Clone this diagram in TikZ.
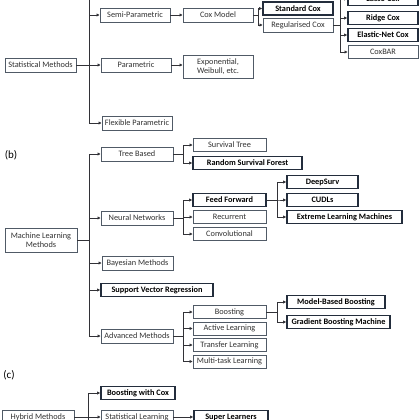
\documentclass[tikz,border=0pt]{standalone}
\usepackage{fontspec}
\setmainfont{Carlito}
\usetikzlibrary{arrows.meta}
\definecolor{boxc}{RGB}{80,90,102}
\definecolor{boldc}{RGB}{35,45,60}
\definecolor{linec}{RGB}{50,50,55}
\definecolor{textc}{RGB}{50,50,50}
\tikzset{
  nbox/.style={draw=boxc, line width=0.9pt, fill=white, text=textc, inner sep=0pt,
    minimum height=13pt, align=center, font=\fontsize{8.3}{9.3}\selectfont},
  bbox/.style={nbox, draw=boldc, line width=1.6pt, text=black, font=\fontsize{8.3}{9.3}\selectfont\bfseries},
  line/.style={draw=linec, line width=0.8pt},
  conn/.style={line, -{Triangle[length=3pt,width=2.8pt]}},
  lbl/.style={font=\fontsize{11}{12}\selectfont, text=black, inner sep=0pt}
}
\begin{document}
\begin{tikzpicture}[x=1pt,y=-1pt]
\useasboundingbox (0,0) rectangle (420,420);
\clip (0,0) rectangle (420,420);
\fill[white] (0,0) rectangle (420,420);
% ---------- (a)
\node[nbox, minimum width=71, minimum height=14] (sm) at (40.5,65) {Statistical Methods};
\node[nbox, minimum width=70, minimum height=14] (semi) at (135,15) {Semi-Parametric};
\node[nbox, minimum width=70, minimum height=14] (para) at (136,65) {Parametric};
\node[nbox, minimum width=70, minimum height=14] (flex) at (137,123) {Flexible Parametric};
\node[nbox, minimum width=70, minimum height=14] (cox) at (218,15) {Cox Model};
\node[nbox, minimum width=70, minimum height=23] (expw) at (218,66.5) {Exponential,\\Weibull, etc.};
\node[bbox, minimum width=70] (stdcox) at (298,8.5) {Standard Cox};
\node[nbox, minimum width=70, minimum height=14] (regcox) at (298,25) {Regularised Cox};
\node[bbox, minimum width=70] (lasso) at (383,-1) {Lasso Cox};
\node[bbox, minimum width=70] (ridge) at (383,18) {Ridge Cox};
\node[bbox, minimum width=70] (elastic) at (383,35) {Elastic-Net Cox};
\node[nbox, minimum width=70] (coxbar) at (383,52) {CoxBAR};
\coordinate (atop) at (89,-5);
\draw[line] (sm.east) -| (atop);
\draw[conn] (atop) |- (semi.west);
\draw[conn] (atop) |- (para.west);
\draw[conn] (atop) |- (flex.west);
\draw[conn] (semi.east) -- (cox.west);
\draw[conn] (para.east) -- (para.east -| expw.west);
\draw[conn] (cox.east) -- ++(5,0) |- (stdcox.west);
\draw[conn] (cox.east) -- ++(5,0) |- (regcox.west);
\draw[conn] (regcox.east) -- ++(7,0) |- (lasso.west);
\draw[conn] (regcox.east) -- ++(7,0) |- (ridge.west);
\draw[conn] (regcox.east) -- ++(7,0) |- (elastic.west);
\draw[conn] (regcox.east) -- ++(7,0) |- (coxbar.west);
% ---------- (b)
\node[lbl] (lb) at (11,155) {(b)};
\node[nbox, minimum width=72, minimum height=24] (ml) at (41,240) {Machine Learning\\Methods};
\node[nbox, minimum width=72, minimum height=14] (tree) at (137,154) {Tree Based};
\node[nbox, minimum width=72, minimum height=14] (nn) at (137,218) {Neural Networks};
\node[nbox, minimum width=71, minimum height=14] (bayes) at (137.5,263) {Bayesian Methods};
\node[bbox, minimum width=112] (svr) at (157,290) {Support Vector Regression};
\node[nbox, minimum width=72, minimum height=14] (adv) at (137,336) {Advanced Methods};
\node[nbox, minimum width=73] (stree) at (229.5,145) {Survival Tree};
\node[bbox, minimum width=109] (rsf) at (247.5,163) {Random Survival Forest};
\node[bbox, minimum width=73] (ff) at (229.5,200) {Feed Forward};
\node[nbox, minimum width=73] (rec) at (229.5,217) {Recurrent};
\node[nbox, minimum width=73] (conv) at (229.5,234) {Convolutional};
\node[bbox, minimum width=71] (deep) at (322.5,182) {DeepSurv};
\node[bbox, minimum width=71] (cudl) at (322.5,200) {CUDLs};
\node[bbox, minimum width=115] (elm) at (344.5,217) {Extreme Learning Machines};
\node[nbox, minimum width=73] (boost) at (229.5,312) {Boosting};
\node[nbox, minimum width=73] (active) at (229.5,328.5) {Active Learning};
\node[nbox, minimum width=73] (transfer) at (229.5,345) {Transfer Learning};
\node[nbox, minimum width=73] (multi) at (229.5,361.5) {Multi-task Learning};
\node[bbox, minimum width=98] (mbb) at (336,302) {Model-Based Boosting};
\node[bbox, minimum width=103] (gbm) at (338.5,322) {Gradient Boosting Machine};
\coordinate (bt) at (89,154);
\draw[line] (ml.east) -- (ml.east -| bt);
\draw[conn] (bt) |- (tree.west);
\draw[conn] (bt) |- (nn.west);
\draw[conn] (bt) |- (bayes.west);
\draw[conn] (bt) |- (svr.west);
\draw[conn] (bt) |- (adv.west);
\draw[conn] (tree.east) -- ++(10,0) |- (stree.west);
\draw[conn] (tree.east) -- ++(10,0) |- (rsf.west);
\draw[conn] (nn.east) -- ++(10,0) |- (ff.west);
\draw[conn] (nn.east) -- ++(10,0) |- (rec.west);
\draw[conn] (nn.east) -- ++(10,0) |- (conv.west);
\draw[conn] (ff.east) -- ++(11,0) |- (deep.west);
\draw[conn] (ff.east) -- ++(11,0) |- (cudl.west);
\draw[conn] (ff.east) -- ++(11,0) |- (elm.west);
\draw[conn] (adv.east) -- ++(10,0) |- (boost.west);
\draw[conn] (adv.east) -- ++(10,0) |- (active.west);
\draw[conn] (adv.east) -- ++(10,0) |- (transfer.west);
\draw[conn] (adv.east) -- ++(10,0) |- (multi.west);
\draw[conn] (boost.east) -- ++(11,0) |- (mbb.west);
\draw[conn] (boost.east) -- ++(11,0) |- (gbm.west);
% ---------- (c)
\node[lbl] (lc) at (9,375) {(c)};
\node[nbox, minimum width=72, minimum height=14] (hyb) at (38,417) {Hybrid Methods};
\node[bbox, minimum width=74] (bwc) at (138,393) {Boosting with Cox};
\node[nbox, minimum width=72, minimum height=14] (stl) at (137,417) {Statistical Learning};
\node[bbox, minimum width=74] (super) at (231,417) {Super Learners};
\coordinate (cbot) at (88,430);
\draw[conn] (cbot) |- (bwc.west);
\draw[conn] (hyb.east) -- (stl.west);
\draw[conn] (stl.east) -- (super.west);
\end{tikzpicture}
\end{document}
